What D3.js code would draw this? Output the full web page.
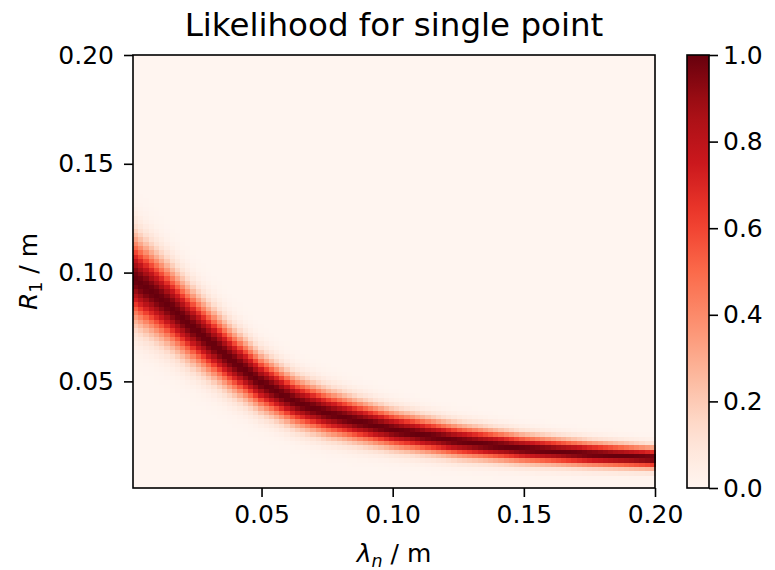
<!DOCTYPE html>
<html>
<head>
<meta charset="utf-8">
<script src="https://cdn.jsdelivr.net/npm/d3@7"></script>
<style>
    body { margin: 0; background: #fff; }
    svg  { display: block; font-family: "DejaVu Sans", sans-serif; }
</style>
</head>
<body>
<svg id="chart" width="775" height="570"></svg>
<script>
// ── Data ──────────────────────────────────────────────────────────────────────
// Ridge of the likelihood: centre R1 and spread at sampled λn values.
const LAMBDA_PTS  = [0.001, 0.0125, 0.025, 0.0375, 0.05, 0.0625, 0.075, 0.0875, 0.1, 0.125, 0.15, 0.175, 0.2];
const RIDGE_R     = [0.098, 0.0872, 0.0738, 0.061, 0.0495, 0.041, 0.0357, 0.0317, 0.028, 0.0228, 0.0192, 0.0168, 0.015];
const RIDGE_SIGMA = [0.0122, 0.0112, 0.0099, 0.0088, 0.0077, 0.0069, 0.0064, 0.0059, 0.0054, 0.0047, 0.0041, 0.0036, 0.0032];

const EXTENT     = [0.001, 0.2];   // image extent, both axes
const GRID_N     = 100;            // cells per axis
const X_TICKS    = [0.05, 0.10, 0.15, 0.20];
const Y_TICKS    = [0.05, 0.10, 0.15, 0.20];
const CBAR_TICKS = [0.0, 0.2, 0.4, 0.6, 0.8, 1.0];

const TITLE   = 'Likelihood for single point';


// ── Layout ────────────────────────────────────────────────────────────────────
const W = 775, H = 570;
const m = { top: 55, right: 120, bottom: 82, left: 133 };
const w = W - m.left - m.right;
const h = H - m.top - m.bottom;
const CBAR = { x: 687, width: 22 };
const TICK_LEN = 9;
const FONT = 25;

const svg = d3.select('#chart');

const x = d3.scaleLinear().domain(EXTENT).range([m.left, m.left + w]);
const y = d3.scaleLinear().domain(EXTENT).range([m.top + h, m.top]);

const color = d3.scaleSequential(d3.piecewise(d3.interpolateRgb, d3.schemeReds[9]))
    .domain([0, 1]);

// piecewise-linear through the read points
const ridgeAt  = d3.scaleLinear().domain(LAMBDA_PTS).range(RIDGE_R).clamp(true);
const sigmaAt  = d3.scaleLinear().domain(LAMBDA_PTS).range(RIDGE_SIGMA).clamp(true);


// ── Heatmap cells ─────────────────────────────────────────────────────────────
const step = (EXTENT[1] - EXTENT[0]) / GRID_N;
const cells = [];
for (let i = 0; i < GRID_N; i++) {
    const lam = EXTENT[0] + (i + 0.5) * step;
    const rc = ridgeAt(lam), s = sigmaAt(lam);
    for (let j = 0; j < GRID_N; j++) {
        const r = EXTENT[0] + (j + 0.5) * step;
        cells.push({ i, j, v: Math.exp(-0.5 * ((r - rc) / s) ** 2) });
    }
}

svg.append('g')
    .attr('shape-rendering', 'crispEdges')
    .selectAll('rect')
    .data(cells)
    .join('rect')
    .attr('x',      d => x(EXTENT[0] + d.i * step))
    .attr('y',      d => y(EXTENT[0] + (d.j + 1) * step))
    .attr('width',  x(EXTENT[0] + step) - x(EXTENT[0]) + 0.6)
    .attr('height', y(EXTENT[0]) - y(EXTENT[0] + step) + 0.6)
    .attr('fill',   d => color(d.v));

// Frame
svg.append('rect')
    .attr('x', m.left).attr('y', m.top)
    .attr('width', w).attr('height', h)
    .attr('fill', 'none')
    .attr('stroke', '#000')
    .attr('stroke-width', 1.6);


// ── Axes ──────────────────────────────────────────────────────────────────────
function styleAxis(g) {
    g.select('.domain').remove();
    g.selectAll('.tick line').attr('stroke', '#000').attr('stroke-width', 1.6);
    g.selectAll('.tick text')
        .attr('font-size', FONT)
        .attr('font-family', '"DejaVu Sans", sans-serif')
        .attr('fill', '#000');
}

svg.append('g')
    .attr('transform', `translate(0,${m.top + h})`)
    .call(d3.axisBottom(x).tickValues(X_TICKS).tickFormat(d3.format('.2f'))
        .tickSize(TICK_LEN).tickPadding(8))
    .call(styleAxis);

svg.append('g')
    .attr('transform', `translate(${m.left},0)`)
    .call(d3.axisLeft(y).tickValues(Y_TICKS).tickFormat(d3.format('.2f'))
        .tickSize(TICK_LEN).tickPadding(10))
    .call(styleAxis);


// ── Colour bar ────────────────────────────────────────────────────────────────
const defs = svg.append('defs');
const grad = defs.append('linearGradient')
    .attr('id', 'cbar-grad')
    .attr('x1', 0).attr('y1', 1)
    .attr('x2', 0).attr('y2', 0);
grad.selectAll('stop')
    .data(d3.range(0, 1.0001, 0.05))
    .join('stop')
    .attr('offset', d => d)
    .attr('stop-color', d => color(d));

const cy = d3.scaleLinear().domain([0, 1]).range([m.top + h, m.top]);

svg.append('rect')
    .attr('x', CBAR.x).attr('y', m.top)
    .attr('width', CBAR.width).attr('height', h)
    .attr('fill', 'url(#cbar-grad)')
    .attr('stroke', '#000')
    .attr('stroke-width', 1.6);

svg.append('g')
    .attr('transform', `translate(${CBAR.x + CBAR.width},0)`)
    .call(d3.axisRight(cy).tickValues(CBAR_TICKS).tickFormat(d3.format('.1f'))
        .tickSize(TICK_LEN).tickPadding(5))
    .call(styleAxis);


// ── Labels ────────────────────────────────────────────────────────────────────
svg.append('text')
    .attr('x', m.left + w / 2).attr('y', 36)
    .attr('text-anchor', 'middle')
    .attr('font-size', 32.5)
    .text(TITLE);

const xl = svg.append('text')
    .attr('x', m.left + w / 2).attr('y', 562)
    .attr('text-anchor', 'middle')
    .attr('font-size', FONT);
xl.append('tspan').attr('font-style', 'italic').text('λ');
xl.append('tspan').attr('font-style', 'italic').attr('font-size', FONT * 0.7).attr('dy', 5).text('n');
xl.append('tspan').attr('dy', -5).text(' / m');

const yl = svg.append('text')
    .attr('transform', `translate(37,${m.top + h / 2}) rotate(-90)`)
    .attr('text-anchor', 'middle')
    .attr('font-size', FONT);
yl.append('tspan').attr('font-style', 'italic').text('R');
yl.append('tspan').attr('font-size', FONT * 0.7).attr('dy', 5).text('1');
yl.append('tspan').attr('dy', -5).text(' / m');
</script>
</body>
</html>
